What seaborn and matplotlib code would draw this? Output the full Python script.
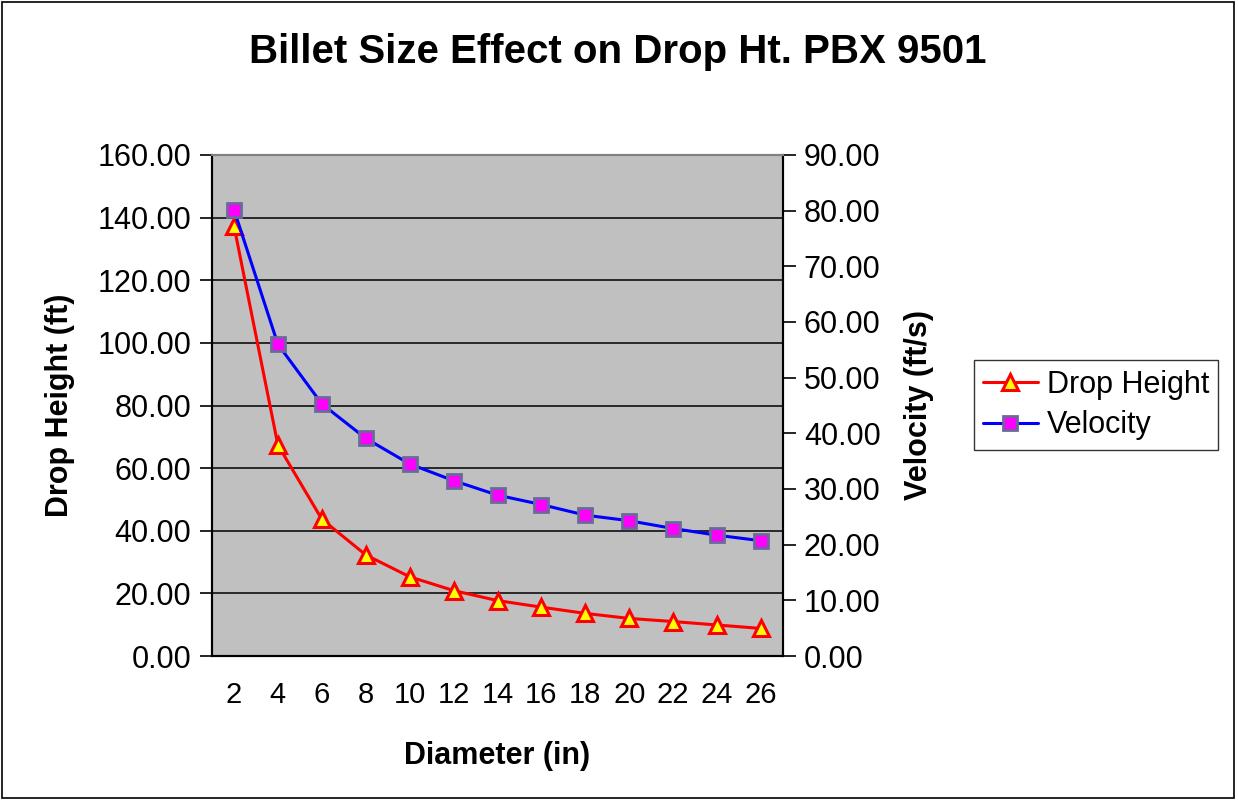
import matplotlib
matplotlib.use("Agg")
import matplotlib.pyplot as plt
import seaborn as sns
import numpy as np
import pandas as pd
from matplotlib.patches import Rectangle

diameters = ["2", "4", "6", "8", "10", "12", "14", "16", "18", "20", "22", "24", "26"]
drop_height = [137.4, 67.4, 43.7, 32.3, 25.3, 20.9, 17.7, 15.6, 13.6, 12.0, 11.0, 9.9, 8.8]
velocity = [80.2, 56.0, 45.3, 39.1, 34.5, 31.5, 28.9, 27.2, 25.3, 24.3, 22.9, 21.7, 20.7]
left_ticks = [0, 20, 40, 60, 80, 100, 120, 140, 160]
right_ticks = [0, 10, 20, 30, 40, 50, 60, 70, 80, 90]

sns.set_style("white")
plt.rcParams['font.family'] = ['Liberation Sans', 'DejaVu Sans']
plt.rcParams['text.color'] = 'black'
plt.rcParams['axes.labelcolor'] = 'black'
plt.rcParams['xtick.color'] = 'black'
plt.rcParams['ytick.color'] = 'black'

df = pd.DataFrame({"pos": np.arange(len(diameters)), "drop": drop_height, "vel": velocity})

fig = plt.figure(figsize=(12.38, 8.0), dpi=100)
ax = fig.add_axes([212/1238, 1 - 656/800, (783 - 212)/1238, (656 - 155)/800])
ax.set_facecolor("#c0c0c0")
ax2 = ax.twinx()

sns.lineplot(data=df, x="pos", y="drop", ax=ax, color="#ff0000", lw=2.2,
             marker="^", markersize=11, markerfacecolor="#ffff00",
             markeredgecolor="#ff0000", markeredgewidth=2.2, label="Drop Height", legend=False)
sns.lineplot(data=df, x="pos", y="vel", ax=ax2, color="#0000ff", lw=2.2,
             marker="s", markersize=10, markerfacecolor="#ff00ff",
             markeredgecolor="#6a6a9a", markeredgewidth=2.0, label="Velocity", legend=False)

ax.set_xlim(-0.5, len(diameters) - 0.5)
ax.set_ylim(0, 160)
ax2.set_ylim(0, 90)
ax.set_yticks(left_ticks)
ax.set_yticklabels([f"{v:.2f}" for v in left_ticks], fontsize=22)
ax2.set_yticks(right_ticks)
ax2.set_yticklabels([f"{v:.2f}" for v in right_ticks], fontsize=22)

ax.set_xticks(np.arange(-0.5, len(diameters), 1.0))
ax.set_xticklabels([])
ax.set_xticks(np.arange(len(diameters)), minor=True)
ax.set_xticklabels(diameters, minor=True, fontsize=21)
ax.tick_params(axis="x", which="major", direction="out", length=7, width=1.2, color="black")
ax.tick_params(axis="x", which="minor", length=0, pad=18)
ax.tick_params(axis="y", direction="out", length=9, width=1.2, color="black", left=True, pad=6)
ax2.tick_params(axis="y", direction="out", length=9, width=1.2, color="black", right=True, pad=6)

ax.grid(axis="y", color="black", lw=1.1)
ax.set_axisbelow(True)
for a in (ax, ax2):
    for s in a.spines.values():
        s.set_color("#808080")
        s.set_linewidth(1.5)
    a.spines["left"].set_color("black")
    a.spines["bottom"].set_color("black")
    a.spines["right"].set_color("black")

ax.set_xlabel("Diameter (in)", fontsize=22, fontweight="bold", labelpad=23)
ax.set_ylabel("Drop Height (ft)", fontsize=22, fontweight="bold", labelpad=16)
ax2.set_ylabel("Velocity (ft/s)", fontsize=22, fontweight="bold", labelpad=17)

fig.suptitle("Billet Size Effect on Drop Ht. PBX 9501", fontsize=29, fontweight="bold",
             x=618/1238, y=1 - 52/800, va="center")

h1, l1 = ax.get_legend_handles_labels()
h2, l2 = ax2.get_legend_handles_labels()
leg = fig.legend(h1 + h2, l1 + l2, loc="center", bbox_to_anchor=(1096/1238, 1 - 405/800),
                 fontsize=22, frameon=True, fancybox=False, edgecolor="black",
                 handlelength=1.8, handletextpad=0.3, borderpad=0.3, labelspacing=0.35,
                 borderaxespad=0)
leg.get_frame().set_linewidth(1.0)

fig.patches.append(Rectangle((0.002, 0.002), 0.995, 0.995, transform=fig.transFigure,
                             fill=False, edgecolor="black", lw=1.2))

fig.savefig("out.png", dpi=100)
